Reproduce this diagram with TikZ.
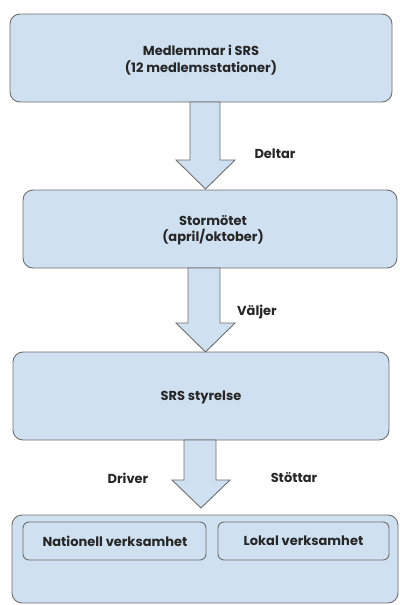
\documentclass[tikz,border=0pt]{standalone}
\usepackage{fontspec}
\setmainfont{Poppins}
\begin{document}
\begin{tikzpicture}[x=1pt,y=-1pt,
  box/.style={draw=boxline, fill=boxfill, line width=0.9pt, rounded corners=10pt},
  inbox/.style={draw=boxline, fill=boxfill, line width=0.9pt, rounded corners=6pt},
  blockarrow/.style={draw=boxline, fill=boxfill, line width=0.9pt, line join=miter},
  txt/.style={font=\fontsize{13}{16.5}\selectfont\bfseries, text=black!85, align=center},
  lbl/.style={font=\fontsize{13}{15}\selectfont\bfseries, text=black!85}]
\definecolor{boxfill}{HTML}{CFE0F1}
\definecolor{boxline}{HTML}{6E6E6E}
\useasboundingbox (0,0) rectangle (399,605);
% boxes
\draw[box] (10,14) rectangle (392,102);
\node[txt] (b1) at (201,60) {Medlemmar i SRS\\(12 medlemsstationer)};
\draw[box] (23,190) rectangle (397,268);
\node[txt] (b2) at (213,230) {Stormötet\\(april/oktober)};
\draw[box] (13,352) rectangle (389,440);
\node[txt] (b3) at (201,397) {SRS styrelse};
\draw[box] (12,515) rectangle (398,603);
\draw[inbox] (23,522) rectangle (206,560);
\node[txt] (n1) at (115,541) {Nationell verksamhet};
\draw[inbox] (218,522) rectangle (389,560);
\node[txt] (n2) at (303.5,541) {Lokal verksamhet};
% arrows
\draw[blockarrow] (190,102) -- (220,102) -- (220,160) -- (235,160) -- (205.5,189) -- (176,160) -- (190,160) -- cycle;
\node[lbl] (l1) at (275,154) {Deltar};
\draw[blockarrow] (188,268) -- (220,268) -- (220,323) -- (235,323) -- (205.5,352) -- (176,323) -- (188,323) -- cycle;
\node[lbl] (l2) at (257,312) {Väljer};
\draw[blockarrow] (184,440) -- (216,440) -- (216,480) -- (230,480) -- (201,508) -- (172,480) -- (184,480) -- cycle;
\node[lbl] (l3) at (128,478) {Driver};
\node[lbl] (l4) at (294,478) {Stöttar};
\end{tikzpicture}
\end{document}
